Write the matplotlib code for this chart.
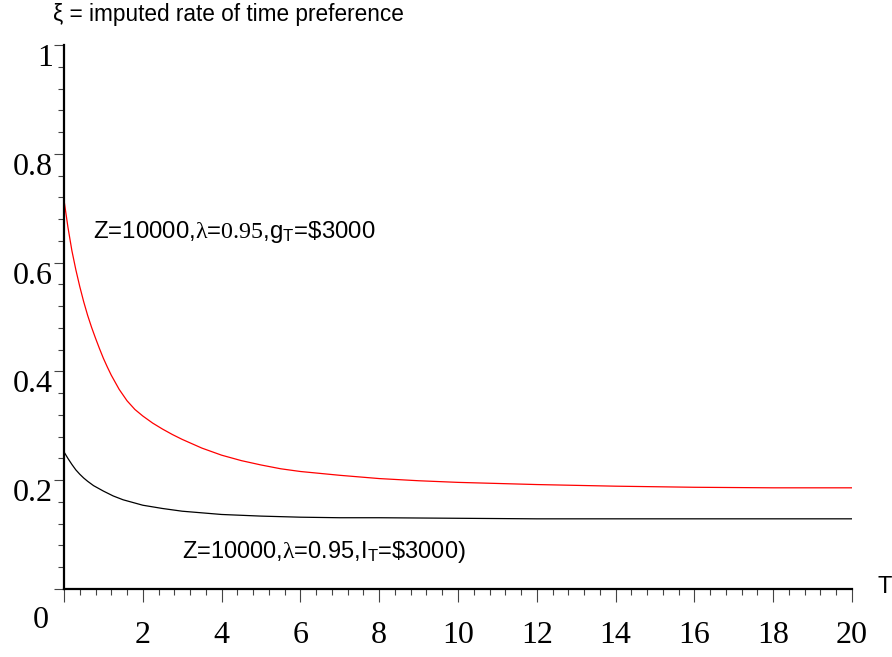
import numpy as np
import matplotlib
matplotlib.use("Agg")
import matplotlib.pyplot as plt
from matplotlib.transforms import ScaledTranslation

plt.rcParams['font.family'] = ['Liberation Sans', 'DejaVu Sans']
plt.rcParams['mathtext.fontset'] = 'custom'
plt.rcParams['mathtext.rm'] = 'Liberation Serif'
plt.rcParams['mathtext.sf'] = 'Liberation Sans'
plt.rcParams['mathtext.it'] = 'Liberation Serif:italic'

# values
T_g = [0, 0.1, 0.2, 0.3, 0.4, 0.5, 0.6, 0.7, 0.8, 0.9, 1.0, 1.1, 1.2, 1.4, 1.6,
       1.8, 2.0, 2.25, 2.5, 2.75, 3.0, 3.5, 4.0, 4.5, 5.0, 5.5, 6.0, 7.0, 8.0,
       9.0, 10, 12, 14, 16, 18, 20]
xi_g = [0.715, 0.665, 0.622, 0.587, 0.556, 0.528, 0.503, 0.481, 0.461, 0.442,
        0.424, 0.408, 0.393, 0.367, 0.346, 0.330, 0.318, 0.305, 0.294, 0.284,
        0.275, 0.259, 0.246, 0.236, 0.228, 0.221, 0.216, 0.209, 0.203, 0.199,
        0.196, 0.192, 0.189, 0.187, 0.186, 0.186]

T_l = [0, 0.1, 0.2, 0.3, 0.4, 0.5, 0.6, 0.75, 1.0, 1.25, 1.5, 1.75, 2.0, 2.5,
       3.0, 3.5, 4.0, 5.0, 6.0, 7.0, 8.0, 10, 12, 14, 16, 18, 20]
xi_l = [0.252, 0.240, 0.229, 0.219, 0.211, 0.204, 0.198, 0.190, 0.180, 0.171,
        0.164, 0.159, 0.154, 0.148, 0.143, 0.140, 0.137, 0.134, 0.132, 0.131,
        0.131, 0.130, 0.129, 0.129, 0.129, 0.129, 0.129]

xticks = [0, 2, 4, 6, 8, 10, 12, 14, 16, 18, 20]
xticklabels = ['', '2', '4', '6', '8', '10', '12', '14', '16', '18', '20']
yticks = [0, 0.2, 0.4, 0.6, 0.8, 1.0]
yticklabels = ['', '0.2', '0.4', '0.6', '0.8', '1']

W, H = 892, 657
fig = plt.figure(figsize=(W / 100, H / 100), dpi=100)
ax = fig.add_axes([64 / W, 68 / H, (852 - 64) / W, (589 - 45) / H])

ax.plot(T_g, xi_g, color='red', lw=0.9)
ax.plot(T_l, xi_l, color='black', lw=0.9)

ax.set_xlim(0, 20)
ax.set_ylim(0, 1)
for s in ['top', 'right']:
    ax.spines[s].set_visible(False)
for s in ['left', 'bottom']:
    ax.spines[s].set_linewidth(1.6)

ax.set_xticks(xticks)
ax.set_xticklabels(xticklabels, fontfamily='Liberation Serif', fontsize=23)
ax.set_xticks(np.arange(0, 20.01, 0.4), minor=True)
ax.set_yticks(yticks)
ax.set_yticklabels(yticklabels, fontfamily='Liberation Serif', fontsize=23)
ax.set_yticks(np.arange(0, 1.001, 0.04), minor=True)

ax.tick_params(axis='x', which='major', length=9, width=0.8, color='#444444', pad=14)
ax.tick_params(axis='x', which='minor', length=4.5, width=0.8, color='#444444')
ax.tick_params(axis='y', which='major', length=7, width=0.8, color='#444444', pad=1)
ax.tick_params(axis='y', which='minor', length=4, width=0.8, color='#444444')

down = ScaledTranslation(0, -21 / 100, fig.dpi_scale_trans)
for lab in ax.get_yticklabels():
    lab.set_va('baseline')
    lab.set_transform(lab.get_transform() + down)

ax.text(0.74, 0.645, r"Z=10000,$\mathrm{\lambda}$=$\mathrm{0.95}$,g$_\mathsf{T}$=\$3000",
        fontsize=17.3, va='baseline', ha='left')
ax.text(3.0, 0.057, r"Z=10000,$\mathrm{\lambda}$=0.95,I$_\mathsf{T}$=\$3000)",
        fontsize=17, va='baseline', ha='left')

fig.text(53 / W, 1 - 20.5 / H, "ξ = imputed rate of time preference",
         fontsize=16.3, va='baseline', ha='left')
fig.text(877 / W, 1 - 593 / H, "T", fontsize=17, va='baseline', ha='left')
fig.text(41 / W, 1 - 628 / H, "0", fontfamily='Liberation Serif', fontsize=23,
         va='baseline', ha='center')

fig.savefig("out.png", dpi=100)
